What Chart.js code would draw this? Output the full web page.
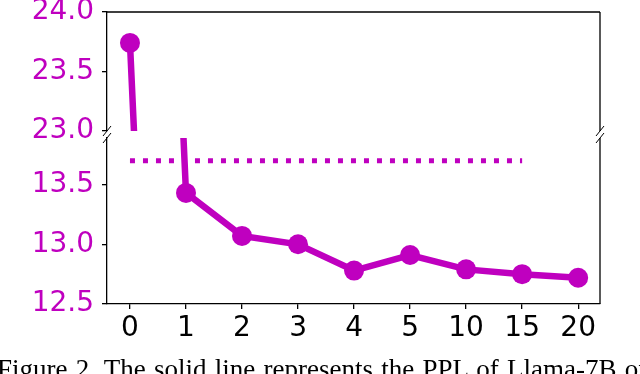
<!DOCTYPE html>
<html lang="en">
<head>
    <meta charset="UTF-8">
    <title>PPL broken axis</title>
    <script src="https://cdn.jsdelivr.net/npm/chart.js"></script>
    <style>
        body {
            margin: 0;
            background: white;
            width: 640px;
            height: 374px;
            overflow: hidden;
            position: relative;
        }

        .pane {
            position: absolute;
            left: 0;
            width: 640px;
        }

        /* chart areas: top 12..131, bottom 138..304 (layout padding 30) */
        #top { top: -18px; height: 179px; }
        #bottom { top: 108px; height: 266px; }

        #caption {
            position: absolute;
            left: -3px;
            top: 354px;
            white-space: nowrap;
            font-family: "Liberation Serif", "Times New Roman", serif;
            font-size: 27px;
            color: black;
            word-spacing: 1.5px;
        }
    </style>
</head>
<body>
    <div class="pane" id="top"><canvas id="topChart"></canvas></div>
    <div class="pane" id="bottom"><canvas id="bottomChart"></canvas></div>
    <div id="caption">Figure 2. The solid line represents the PPL of Llama-7B on</div>

    <script>
        // data
        var xLabels = ['0', '1', '2', '3', '4', '5', '10', '15', '20'];
        var ppl = [23.74, 13.43, 13.07, 13.0, 12.78, 12.91, 12.79, 12.75, 12.72];
        var baselineValue = 13.7;
        var baselineFrom = 0;   // index of '0'
        var baselineTo = 7;     // index of '15'
        var topTicks = [23.0, 23.5, 24.0];
        var bottomTicks = [12.5, 13.0, 13.5];

        var magenta = '#bf00bf';
        var tickFont = { family: 'DejaVu Sans', size: 28 };

        var pplPoints = ppl.map(function (v, i) { return { x: i, y: v }; });
        var basePoints = [];
        for (var i = baselineFrom; i <= baselineTo; i++) {
            basePoints.push({ x: i, y: baselineValue });
        }

        function fixWidth(scale) { scale.width = 107; }

        // spines that chart.js has no axis for, plus the // break marks
        function framePlugin(part) {
            return {
                id: 'frame',
                afterDraw: function (chart) {
                    var a = chart.chartArea;
                    var c = chart.ctx;
                    c.save();
                    c.strokeStyle = '#000';
                    c.lineWidth = 1.3;
                    c.beginPath();
                    c.moveTo(a.right, a.top);
                    c.lineTo(a.right, a.bottom);
                    if (part === 'top') {
                        c.moveTo(a.left, a.top);
                        c.lineTo(a.right, a.top);
                    }
                    c.stroke();

                    var y = part === 'top' ? a.bottom : a.top;
                    c.lineWidth = 1;
                    c.beginPath();
                    [a.left, a.right].forEach(function (x) {
                        c.moveTo(x - 4, y + 5);
                        c.lineTo(x + 4, y - 5);
                    });
                    c.stroke();
                    c.restore();
                }
            };
        }

        function lineDataset() {
            return {
                data: pplPoints,
                borderColor: magenta,
                backgroundColor: magenta,
                borderWidth: 6.5,
                pointRadius: 10,
                pointHoverRadius: 10,
                pointBorderWidth: 0,
                clip: 0,
                order: 1
            };
        }

        var yCommon = {
            type: 'linear',
            afterFit: fixWidth,
            grid: { drawOnChartArea: false, drawTicks: true, tickLength: 5, color: '#000', lineWidth: 1.3 },
            border: { display: true, color: '#000', width: 1.3 },
            ticks: {
                color: magenta,
                font: tickFont,
                padding: 8,
                callback: function (v) { return Number(v).toFixed(1); }
            }
        };

        var xCommon = {
            type: 'linear',
            min: -0.41,
            max: 8.39,
            afterBuildTicks: function (scale) {
                scale.ticks = xLabels.map(function (l, i) { return { value: i }; });
            }
        };

        new Chart(document.getElementById('topChart'), {
            type: 'line',
            data: { datasets: [lineDataset()] },
            options: {
                responsive: true,
                maintainAspectRatio: false,
                animation: false,
                layout: { padding: { top: 30, right: 40, bottom: 30, left: 0 } },
                plugins: { legend: { display: false }, tooltip: { enabled: false } },
                scales: {
                    x: Object.assign({}, xCommon, { display: false }),
                    y: Object.assign({}, yCommon, {
                        min: 23.0,
                        max: 24.0,
                        afterBuildTicks: function (scale) {
                            scale.ticks = topTicks.map(function (v) { return { value: v }; });
                        }
                    })
                }
            },
            plugins: [framePlugin('top')]
        });

        new Chart(document.getElementById('bottomChart'), {
            type: 'line',
            data: {
                datasets: [
                    lineDataset(),
                    {
                        data: basePoints,
                        borderColor: magenta,
                        borderWidth: 5,
                        borderDash: [5, 8],
                        borderCapStyle: 'butt',
                        pointRadius: 0,
                        clip: 0,
                        order: 2
                    }
                ]
            },
            options: {
                responsive: true,
                maintainAspectRatio: false,
                animation: false,
                layout: { padding: { top: 30, right: 40, bottom: 0, left: 0 } },
                plugins: { legend: { display: false }, tooltip: { enabled: false } },
                scales: {
                    x: Object.assign({}, xCommon, {
                        afterFit: function (scale) { scale.height = 70; },
                        grid: { drawOnChartArea: false, drawTicks: true, tickLength: 5, color: '#000', lineWidth: 1.3 },
                        border: { display: true, color: '#000', width: 1.3 },
                        ticks: {
                            color: '#000',
                            font: tickFont,
                            padding: 3,
                            maxRotation: 0,
                            autoSkip: false,
                            callback: function (v) { return xLabels[v]; }
                        }
                    }),
                    y: Object.assign({}, yCommon, {
                        min: 12.5,
                        max: 13.89,
                        afterBuildTicks: function (scale) {
                            scale.ticks = bottomTicks.map(function (v) { return { value: v }; });
                        }
                    })
                }
            },
            plugins: [framePlugin('bottom')]
        });
    </script>
</body>
</html>
